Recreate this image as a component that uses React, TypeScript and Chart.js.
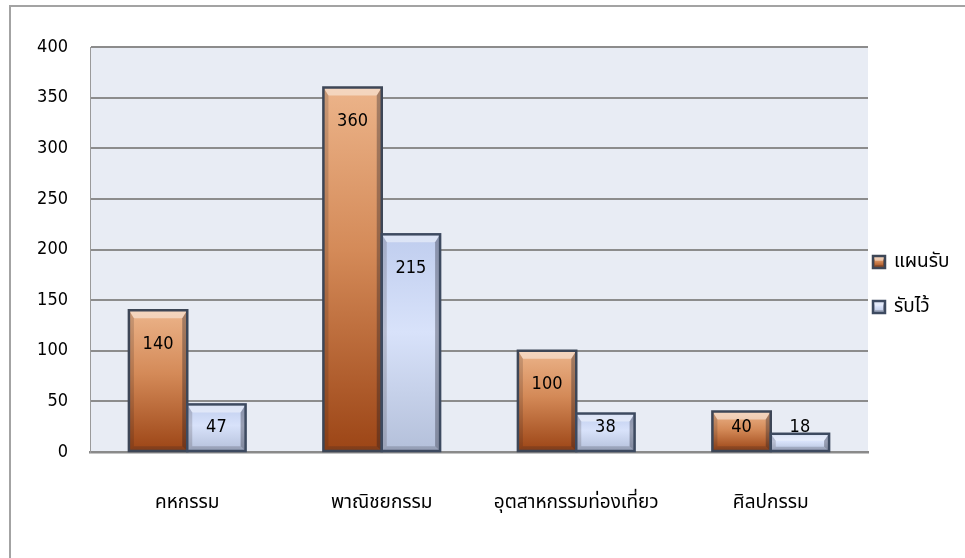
import React, { useEffect, useRef } from "react";
import { Chart, registerables } from "chart.js";

Chart.register(...registerables);

const categories = ["คหกรรม", "พาณิชยกรรม", "อุตสาหกรรมท่องเที่ยว", "ศิลปกรรม"];
const seriesNames = ["แผนรับ", "รับไว้"];
const planValues = [140, 360, 100, 40];
const acceptedValues = [47, 215, 38, 18];
const yMin = 0;
const yMax = 400;
const yStep = 50;

const FONT = "'DejaVu Sans Condensed', 'DejaVu Sans', 'Noto Sans Thai', Loma, Garuda, 'Tlwg Typo', Tahoma, sans-serif";

const palettes = [
  { top: "#ecb48a", mid: "#d48a58", bottom: "#9c4516", border: "#3d4656" },
  { top: "#bfcdee", mid: "#d8e2fa", bottom: "#b4c0da", border: "#3d4a60" },
];

function barGradient(ctx: CanvasRenderingContext2D, top: number, base: number, p: any) {
  const g = ctx.createLinearGradient(0, top, 0, base);
  g.addColorStop(0, p.top);
  g.addColorStop(0.45, p.mid);
  g.addColorStop(1, p.bottom);
  return g;
}

function drawBevelBox(ctx: CanvasRenderingContext2D, L: number, T: number, R: number, B: number, p: any) {
  const h = B - T;
  const w = R - L;
  ctx.save();
  ctx.fillStyle = barGradient(ctx, T, B, p);
  ctx.fillRect(L, T, w, h);
  const bv = Math.min(8, h / 2.5);
  const sv = Math.min(5, w / 6);
  ctx.beginPath();
  ctx.moveTo(L, T);
  ctx.lineTo(R, T);
  ctx.lineTo(R - sv, T + bv);
  ctx.lineTo(L + sv, T + bv);
  ctx.closePath();
  ctx.fillStyle = "rgba(255,255,255,0.45)";
  ctx.fill();
  ctx.beginPath();
  ctx.moveTo(L, T);
  ctx.lineTo(L + sv, T + bv);
  ctx.lineTo(L + sv, B - bv * 0.6);
  ctx.lineTo(L, B);
  ctx.closePath();
  ctx.fillStyle = "rgba(40,30,30,0.18)";
  ctx.fill();
  ctx.beginPath();
  ctx.moveTo(R, T);
  ctx.lineTo(R - sv, T + bv);
  ctx.lineTo(R - sv, B - bv * 0.6);
  ctx.lineTo(R, B);
  ctx.closePath();
  ctx.fillStyle = "rgba(20,20,30,0.32)";
  ctx.fill();
  ctx.beginPath();
  ctx.moveTo(L, B);
  ctx.lineTo(R, B);
  ctx.lineTo(R - sv, B - bv * 0.6);
  ctx.lineTo(L + sv, B - bv * 0.6);
  ctx.closePath();
  ctx.fillStyle = "rgba(30,30,40,0.2)";
  ctx.fill();
  ctx.lineWidth = 2.5;
  ctx.strokeStyle = p.border;
  ctx.strokeRect(L, T, w, h);
  ctx.restore();
}

const framePlugin = {
  id: "frameBg",
  beforeDraw(chart: any) {
    const { ctx, chartArea } = chart;
    ctx.save();
    ctx.fillStyle = "#ffffff";
    ctx.fillRect(0, 0, chart.width, chart.height);
    ctx.strokeStyle = "#a3a3a3";
    ctx.lineWidth = 2;
    ctx.beginPath();
    ctx.moveTo(10, chart.height);
    ctx.lineTo(10, 6);
    ctx.lineTo(chart.width, 6);
    ctx.stroke();
    ctx.fillStyle = "#e8ecf4";
    ctx.fillRect(chartArea.left, chartArea.top, chartArea.right - chartArea.left, chartArea.bottom - chartArea.top);
    ctx.restore();
  },
};

const barsPlugin = {
  id: "bevelBars",
  afterDatasetsDraw(chart: any) {
    const { ctx } = chart;
    chart.data.datasets.forEach((ds: any, di: number) => {
      const meta = chart.getDatasetMeta(di);
      meta.data.forEach((el: any) => {
        const L = el.x - el.width / 2;
        const R = el.x + el.width / 2;
        drawBevelBox(ctx, L, el.y, R, el.base, palettes[di]);
      });
    });
    ctx.save();
    ctx.font = `18px ${FONT}`;
    ctx.fillStyle = "#000";
    ctx.textAlign = "center";
    ctx.textBaseline = "middle";
    chart.data.datasets.forEach((ds: any, di: number) => {
      const meta = chart.getDatasetMeta(di);
      meta.data.forEach((el: any, i: number) => {
        const y = Math.min(el.y + 34, el.base - 24);
        ctx.fillText(String(ds.data[i]), el.x, y);
      });
    });
    ctx.restore();
  },
};

const legendPlugin = {
  id: "customLegend",
  afterDraw(chart: any) {
    const { ctx } = chart;
    const items = [
      { y: 262, p: palettes[0], text: seriesNames[0] },
      { y: 307, p: palettes[1], text: seriesNames[1] },
    ];
    ctx.save();
    items.forEach((it) => {
      drawBevelBox(ctx, 873, it.y - 6, 885, it.y + 6, it.p);
      ctx.font = `19px ${FONT}`;
      ctx.fillStyle = "#000";
      ctx.textAlign = "left";
      ctx.textBaseline = "middle";
      ctx.fillText(it.text, 894, it.y);
    });
    ctx.restore();
  },
};

export default function App() {
  const ref = useRef<HTMLCanvasElement | null>(null);
  useEffect(() => {
    if (!ref.current) return;
    const chart = new Chart(ref.current, {
      type: "bar",
      data: {
        labels: categories,
        datasets: [
          { label: seriesNames[0], data: planValues, backgroundColor: "rgba(0,0,0,0)", borderWidth: 0 },
          { label: seriesNames[1], data: acceptedValues, backgroundColor: "rgba(0,0,0,0)", borderWidth: 0 },
        ],
      },
      options: {
        responsive: false,
        animation: false,
        devicePixelRatio: 1,
        layout: { padding: { top: 47, right: 97, left: 0, bottom: 0 } },
        datasets: { bar: { categoryPercentage: 0.6, barPercentage: 1.0 } },
        plugins: { legend: { display: false }, tooltip: { enabled: false }, title: { display: false } },
        scales: {
          x: {
            grid: { display: false, drawTicks: false },
            border: { display: true, color: "#8a8a8a", width: 2.5 },
            ticks: { color: "#000", padding: 40, font: { family: FONT, size: 19 } },
            afterFit: (s: any) => { s.height = 106; },
          },
          y: {
            min: yMin,
            max: yMax,
            grid: { color: "#8c8c8c", lineWidth: 2, drawTicks: false },
            border: { display: true, color: "#9a9a9a", width: 1 },
            ticks: { stepSize: yStep, color: "#000", padding: 22, font: { family: FONT, size: 18 } },
            afterFit: (s: any) => { s.width = 90; },
          },
        },
      },
      plugins: [framePlugin, barsPlugin, legendPlugin],
    });
    return () => chart.destroy();
  }, []);
  return (
    <div style={{ position: "fixed", left: 0, top: 0, width: 965, height: 558 }}>
      <canvas ref={ref} width={965} height={558} style={{ width: 965, height: 558 }} />
    </div>
  );
}
